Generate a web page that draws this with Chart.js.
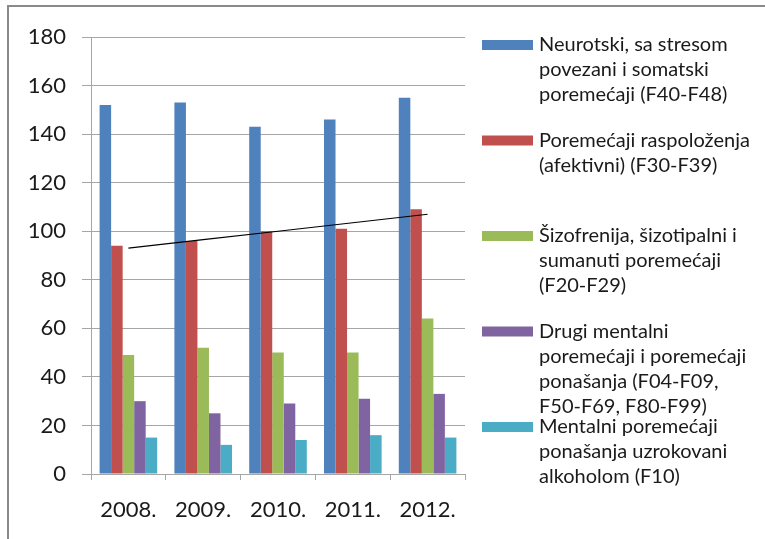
<!DOCTYPE html>
<html>
<head>
<meta charset="utf-8">
<script src="https://cdn.jsdelivr.net/npm/chart.js@4.4.1/dist/chart.umd.min.js"></script>
<style>
  html, body { margin: 0; padding: 0; background: #fff; }
  #wrap { width: 765px; height: 539px; }
</style>
</head>
<body>
<div id="wrap"><canvas id="chart" width="765" height="539"></canvas></div>
<script>
// ====== DATA ======
const years = ['2008.', '2009.', '2010.', '2011.', '2012.'];
const neurotski    = [152, 153, 143, 146, 155];
const raspolozenje = [94, 96, 100, 101, 109];
const sizofrenija  = [49, 52, 50, 50, 64];
const drugi        = [30, 25, 29, 31, 33];
const alkohol      = [15, 12, 14, 16, 15];

const seriesNames = [
  ['Neurotski, sa stresom', 'povezani i somatski', 'poremećaji (F40-F48)'],
  ['Poremećaji raspoloženja', '(afektivni) (F30-F39)'],
  ['Šizofrenija, šizotipalni i', 'sumanuti poremećaji', '(F20-F29)'],
  ['Drugi mentalni', 'poremećaji i poremećaji', 'ponašanja (F04-F09,', 'F50-F69, F80-F99)'],
  ['Mentalni poremećaji', 'ponašanja uzrokovani', 'alkoholom (F10)']
];
const seriesColors = ['#4F81BD', '#C0504D', '#9BBB59', '#8064A2', '#4BACC6'];
const yMin = 0, yMax = 180, yStep = 20;

const FONT = 'Lato, "Open Sans", sans-serif';
const TEXT = '#1a1a1a';
const GRID = '#a6a6a6';

// linearni trend za poremećaje raspoloženja (kao Excel trendline)
function linearTrend(vals){
  const n = vals.length;
  const mx = (n - 1) / 2;
  const my = vals.reduce((a, b) => a + b, 0) / n;
  let num = 0, den = 0;
  vals.forEach((v, i) => { num += (i - mx) * (v - my); den += (i - mx) * (i - mx); });
  const k = num / den;
  return vals.map((v, i) => my + k * (i - mx));
}

const allSeries = [neurotski, raspolozenje, sizofrenija, drugi, alkohol];

const barSets = allSeries.map((d, i) => ({
  type: 'bar',
  label: seriesNames[i].join(' '),
  data: d,
  backgroundColor: seriesColors[i],
  borderWidth: 0,
  categoryPercentage: 0.77,
  barPercentage: 1.0,
  order: 1
}));

const trendSet = {
  type: 'line',
  label: 'Trend',
  data: linearTrend(raspolozenje),
  borderColor: '#000',
  borderWidth: 1.2,
  pointRadius: 0,
  fill: false,
  tension: 0,
  order: 0
};

// pozadina, okvir i legenda (Excel stil, ravnomjerno rasporedjene stavke)
const excelLook = {
  id: 'excelLook',
  beforeDraw(chart){
    const ctx = chart.ctx;
    ctx.save();
    ctx.fillStyle = '#fff';
    ctx.fillRect(0, 0, chart.width, chart.height);
    ctx.restore();
  },
  afterDraw(chart){
    const ctx = chart.ctx;
    ctx.save();
    // okvir
    ctx.strokeStyle = '#8a8a8a';
    ctx.lineWidth = 2;
    ctx.beginPath();
    ctx.moveTo(8, chart.height);
    ctx.lineTo(8, 6);
    ctx.lineTo(chart.width, 6);
    ctx.stroke();

    // legenda
    const top = 45, spacing = 95.5, lineH = 25;
    ctx.font = '20px ' + FONT;
    ctx.textBaseline = 'middle';
    ctx.textAlign = 'left';
    seriesNames.forEach((lines, i) => {
      const y = top + i * spacing;
      ctx.fillStyle = seriesColors[i];
      ctx.fillRect(482, y - 5, 51, 10);
      ctx.fillStyle = TEXT;
      lines.forEach((ln, j) => ctx.fillText(ln, 539, y + j * lineH));
    });
    ctx.restore();
  }
};

new Chart(document.getElementById('chart'), {
  data: { labels: years, datasets: [...barSets, trendSet] },
  options: {
    responsive: false,
    animation: false,
    layout: { padding: { left: 0, right: 300, top: 37, bottom: 0 } },
    plugins: { legend: { display: false }, tooltip: { enabled: false } },
    scales: {
      x: {
        afterFit(scale){ scale.height = 65; },
        grid: { drawOnChartArea: false, drawTicks: true, tickLength: 6, color: GRID, offset: true },
        border: { color: GRID, width: 1 },
        ticks: { color: TEXT, font: { family: FONT, size: 22 }, padding: 17, maxRotation: 0 }
      },
      y: {
        min: yMin, max: yMax,
        afterFit(scale){ scale.width = 91; },
        grid: { color: GRID, tickLength: 9, lineWidth: 1 },
        border: { color: GRID, width: 1 },
        ticks: { stepSize: yStep, color: TEXT, font: { family: FONT, size: 22 }, padding: 16 }
      }
    }
  },
  plugins: [excelLook]
});
</script>
</body>
</html>
